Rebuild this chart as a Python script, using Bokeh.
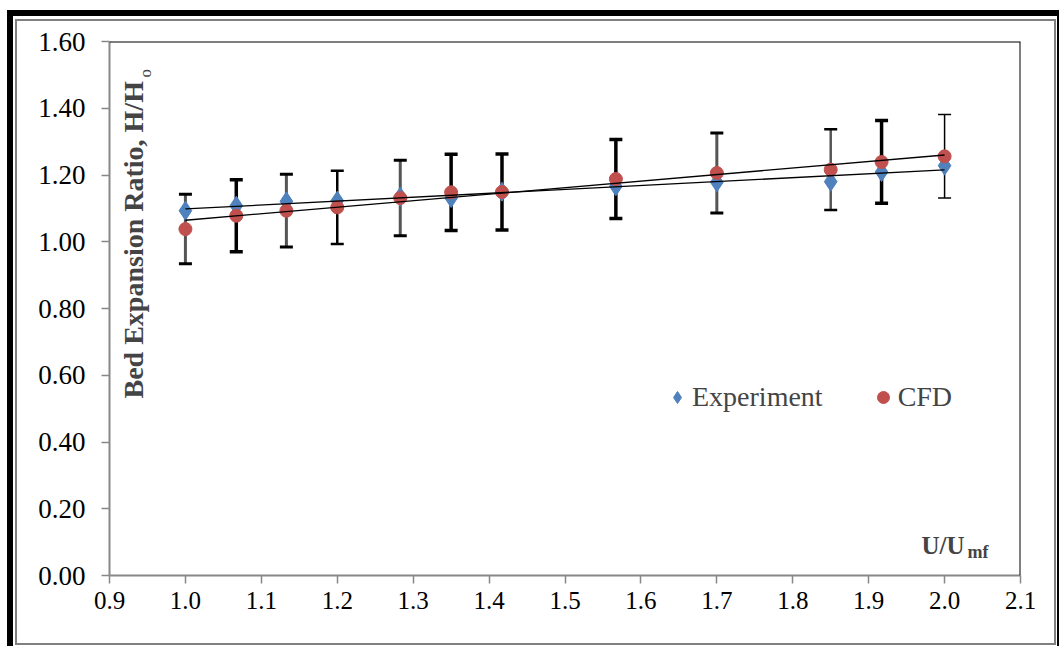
import numpy as np
from bokeh.plotting import figure
from bokeh.models import (Range1d, FixedTicker, NumeralTickFormatter, Label, Legend,
                          LegendItem, Span, ColumnDataSource)
from bokeh.embed import file_html
from bokeh.resources import INLINE

# ---- data ----
u_umf = [1.0, 1.067, 1.133, 1.2, 1.283, 1.35, 1.417, 1.567, 1.7, 1.85, 1.917, 2.0]
experiment = [1.093, 1.108, 1.121, 1.123, 1.135, 1.131, 1.150, 1.166, 1.178, 1.180, 1.209, 1.228]
cfd = [1.038, 1.078, 1.093, 1.103, 1.131, 1.148, 1.149, 1.188, 1.206, 1.216, 1.239, 1.256]
cfd_err = [0.104, 0.108, 0.109, 0.110, 0.113, 0.114, 0.114, 0.118, 0.120, 0.121, 0.124, 0.125]
x_ticks = [0.9, 1.0, 1.1, 1.2, 1.3, 1.4, 1.5, 1.6, 1.7, 1.8, 1.9, 2.0, 2.1]
y_ticks = [0.0, 0.2, 0.4, 0.6, 0.8, 1.0, 1.2, 1.4, 1.6]

FONT = "Liberation Serif"
BLUE = "#4F81BD"
RED = "#C0504D"

p = figure(width=1059, height=646, output_backend="svg", toolbar_location=None,
           x_range=Range1d(0.9, 2.1), y_range=Range1d(0.0, 1.6),
           min_border_left=109, min_border_right=39, min_border_top=41, min_border_bottom=71)
p.xgrid.visible = False
p.ygrid.visible = False
p.outline_line_color = None
p.background_fill_color = "white"
p.border_fill_color = None

# outer picture frames (CSS backgrounds of the figure element)
bands = [
    ("black", 7, 10, 1052, 6),
    ("black", 7, 10, 6, 636),
    ("black", 1057, 10, 2, 636),
    ("#808080", 15, 19, 1041, 2),
    ("#808080", 15, 19, 2, 626),
    ("#808080", 1054, 19, 2, 626),
    ("#808080", 15, 643, 1041, 2),
]
p.styles = {
    "background-color": "white",
    "background-image": ", ".join(f"linear-gradient({c}, {c})" for c, *_ in bands),
    "background-position": ", ".join(f"{x}px {y}px" for _, x, y, _w, _h in bands),
    "background-size": ", ".join(f"{w}px {h}px" for *_, w, h in bands),
    "background-repeat": "no-repeat",
}

# axes
for ax in (p.xaxis[0], p.yaxis[0]):
    ax.axis_line_color = "#878787"
    ax.axis_line_width = 2
    ax.major_tick_line_color = "#878787"
    ax.major_tick_line_width = 1.5
    ax.major_tick_out = 8
    ax.major_tick_in = 0
    ax.minor_tick_line_color = None
    ax.major_label_text_font = FONT
    ax.major_label_text_color = "black"
p.xaxis.ticker = FixedTicker(ticks=x_ticks)
p.yaxis.ticker = FixedTicker(ticks=y_ticks)
p.xaxis.formatter = NumeralTickFormatter(format="0.0")
p.yaxis.formatter = NumeralTickFormatter(format="0.00")
p.xaxis.major_label_text_font_size = "25px"
p.yaxis.major_label_text_font_size = "27px"
p.xaxis.major_label_standoff = 8
p.yaxis.major_label_standoff = 16

# top and right frame lines
p.add_layout(Span(location=1.6, dimension="width", line_color="black", line_width=2))
p.add_layout(Span(location=2.1, dimension="height", line_color="black", line_width=2))

# error bars (CFD)
x = np.array(u_umf)
c = np.array(cfd)
e = np.array(cfd_err)
stem_colors = ["#555555", "black", "#555555", "black", "#555555", "black", "black",
               "black", "#555555", "#555555", "black", "black"]
stem_widths = [3, 3.5, 3, 2.5, 3, 3.5, 3.5, 3.5, 3, 2.5, 3.5, 1.5]
src = ColumnDataSource(dict(x=x, lo=c - e, hi=c + e, col=stem_colors, w=stem_widths))
p.segment(x0="x", y0="lo", x1="x", y1="hi", source=src, line_color="col", line_width="w")
p.scatter(x="x", y="hi", source=src, marker="dash", size=13, line_color="black", line_width="w")
p.scatter(x="x", y="lo", source=src, marker="dash", size=13, line_color="black", line_width="w")

# markers
r_exp = p.scatter(u_umf, experiment, marker="diamond", size=19, fill_color=BLUE, line_color=BLUE)
r_cfd = p.scatter(u_umf, cfd, marker="circle", size=13, fill_color=RED, line_color=RED)

# linear trend lines
for vals in (experiment, cfd):
    k, b = np.polyfit(x, np.array(vals), 1)
    xs = np.array([x.min(), x.max()])
    p.line(xs, k * xs + b, line_color="black", line_width=1.3)

# legend
legend = Legend(items=[LegendItem(label="Experiment", renderers=[r_exp]),
                       LegendItem(label="CFD", renderers=[r_cfd])],
                orientation="horizontal", location=(553, 162),
                label_text_font=FONT, label_text_font_size="28px",
                glyph_width=30, glyph_height=30, label_height=30,
                label_standoff=0, spacing=45, padding=0, margin=0,
                border_line_color=None, background_fill_alpha=0)
p.add_layout(legend)

# axis titles placed inside plot area
p.add_layout(Label(x=24, y=177, x_units="screen", y_units="screen",
                   text="Bed Expansion Ratio, H/H", angle=np.pi / 2,
                   text_font=FONT, text_font_size="28px", text_font_style="bold",
                   text_baseline="middle", text_align="left"))
p.add_layout(Label(x=36, y=498, x_units="screen", y_units="screen",
                   text="o", angle=np.pi / 2,
                   text_font=FONT, text_font_size="17px",
                   text_baseline="middle", text_align="left"))
p.add_layout(Label(x=812, y=30, x_units="screen", y_units="screen",
                   text="U/U", text_font=FONT, text_font_size="25px", text_font_style="bold",
                   text_baseline="alphabetic", text_align="left"))
p.add_layout(Label(x=858, y=24, x_units="screen", y_units="screen",
                   text="mf", text_font=FONT, text_font_size="18px", text_font_style="bold",
                   text_baseline="alphabetic", text_align="left"))

open("out.html", "w").write(file_html(p, INLINE))
